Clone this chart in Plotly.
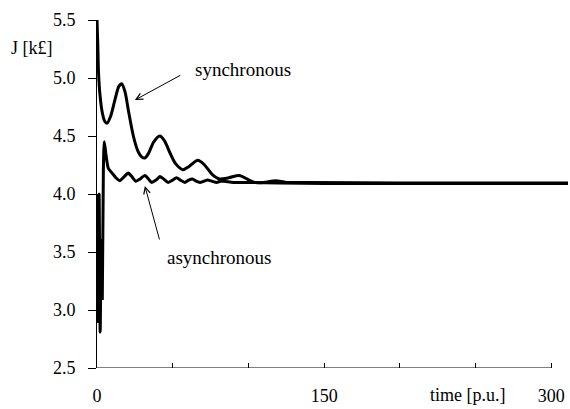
import plotly.graph_objects as go

# synchronous curve (time [p.u.], J [k£])
sync_t = [0, 0.5, 1, 2, 3.5, 5, 6.6, 9, 12, 14.5, 16.3, 18.5, 21, 24, 27, 29.5, 31.6, 34, 37.5,
          41.5, 44.5, 48, 52, 56.7, 61, 66.6, 71, 76, 81, 87, 94, 99, 104, 110, 118, 125, 140,
          200, 260, 311]
sync_j = [5.5, 5.3, 5.05, 4.85, 4.7, 4.63, 4.61, 4.67, 4.82, 4.93, 4.95, 4.88, 4.7, 4.5, 4.37,
          4.32, 4.31, 4.35, 4.45, 4.50, 4.46, 4.36, 4.26, 4.21, 4.24, 4.29, 4.25, 4.17, 4.13,
          4.14, 4.16, 4.13, 4.10, 4.10, 4.115, 4.10, 4.10, 4.095, 4.095, 4.095]

# asynchronous curve
async_t = [0, 0.7, 1.4, 2.1, 2.8, 3.5, 4.2, 4.8, 6, 7.5, 10, 12.5, 15, 18, 20.6, 23, 25.7, 28.5,
           31.6, 34, 36, 39, 41.5, 44, 47, 50, 52.5, 55, 58, 60.5, 63, 65.5, 68, 70.5, 73, 76,
           79, 81.5, 84, 90, 100, 120, 150, 200, 260, 311]
async_j = [4.0, 2.9, 4.0, 2.81, 3.6, 3.1, 4.2, 4.45, 4.33, 4.22, 4.18, 4.14, 4.115, 4.15, 4.18,
           4.15, 4.11, 4.13, 4.16, 4.13, 4.10, 4.12, 4.15, 4.13, 4.10, 4.12, 4.14, 4.12, 4.10,
           4.12, 4.13, 4.11, 4.10, 4.11, 4.12, 4.11, 4.10, 4.11, 4.11, 4.10, 4.10, 4.095, 4.09,
           4.09, 4.09, 4.09]

x_tick_vals = [0, 150, 300]
x_tick_text = ["0", "150", "300"]
y_tick_vals = [2.5, 3.0, 3.5, 4.0, 4.5, 5.0, 5.5]
y_tick_text = ["2.5", "3.0", "3.5", "4.0", "4.5", "5.0", "5.5"]

FONT = "Liberation Serif, Times New Roman, serif"

fig = go.Figure()
fig.add_trace(go.Scatter(x=sync_t, y=sync_j, mode="lines", name="synchronous",
                         line=dict(color="black", width=3, shape="spline", smoothing=0.8)))
fig.add_trace(go.Scatter(x=async_t, y=async_j, mode="lines", name="asynchronous",
                         line=dict(color="black", width=3, shape="spline", smoothing=0.6)))

fig.update_layout(
    width=570, height=409,
    margin=dict(l=97, r=2, t=20, b=41),
    paper_bgcolor="white", plot_bgcolor="white",
    showlegend=False,
    font=dict(family=FONT, size=18, color="black"),
)
fig.update_xaxes(range=[0, 311], showgrid=False, zeroline=False, showline=False,
                 tickvals=x_tick_vals, ticktext=x_tick_text,
                 ticks="inside", ticklen=5, tickwidth=1, tickcolor="black",
                 ticklabelstandoff=15,
                 minor=dict(tickvals=[50, 100, 200, 250], ticks="inside", ticklen=5,
                            tickwidth=1, tickcolor="black"))
fig.update_yaxes(range=[2.5, 5.5], showgrid=False, zeroline=False, showline=True,
                 linecolor="black", linewidth=1,
                 tickvals=y_tick_vals, ticktext=y_tick_text,
                 ticks="outside", ticklen=8, tickwidth=1, tickcolor="black",
                 ticklabelstandoff=9)

# x-axis baseline (0 to 300 only)
fig.add_shape(type="line", xref="x", yref="y", x0=0, x1=300, y0=2.5, y1=2.5,
              line=dict(color="black", width=1))

fig.add_annotation(x=25, y=4.81, ax=56, ay=5.03, xref="x", yref="y", axref="x", ayref="y",
                   showarrow=True, arrowhead=5, arrowsize=1.3, arrowwidth=1, arrowcolor="black",
                   text="")
fig.add_annotation(x=96.2, y=5.07, xref="x", yref="y", text="synchronous", showarrow=False,
                   font=dict(size=19))
fig.add_annotation(x=31.6, y=4.07, ax=41.5, ay=3.595, xref="x", yref="y", axref="x", ayref="y",
                   showarrow=True, arrowhead=5, arrowsize=1.3, arrowwidth=1, arrowcolor="black",
                   text="")
fig.add_annotation(x=80.4, y=3.45, xref="x", yref="y", text="asynchronous", showarrow=False,
                   font=dict(size=19))
fig.add_annotation(x=-0.138, y=0.9195, xref="paper", yref="paper", text="J [k£]",
                   xanchor="center", yanchor="middle", showarrow=False, font=dict(size=18))
fig.add_annotation(x=244.6, y=-0.0776, xref="x", yref="paper", text="time [p.u.]",
                   xanchor="center", yanchor="middle", showarrow=False, font=dict(size=18))

fig.write_html("out.html", config={"displayModeBar": False},
               post_script="document.body.style.margin='0';document.body.style.overflow='hidden';")
